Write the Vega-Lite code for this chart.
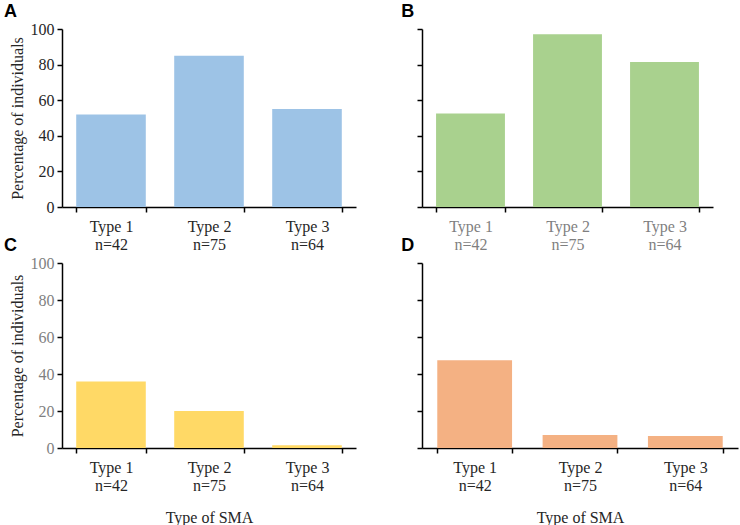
{
  "$schema": "https://vega.github.io/schema/vega-lite/v6.json",
  "padding": {"left": 4, "top": 3, "right": 2, "bottom": 0},
  "background": "white",
  "data": {"values": [
    {"panel": "A", "type": "Type 1|n=42", "pct": 52},
    {"panel": "A", "type": "Type 2|n=75", "pct": 85},
    {"panel": "A", "type": "Type 3|n=64", "pct": 55},
    {"panel": "B", "type": "Type 1|n=42", "pct": 52.5},
    {"panel": "B", "type": "Type 2|n=75", "pct": 97},
    {"panel": "B", "type": "Type 3|n=64", "pct": 81.5},
    {"panel": "C", "type": "Type 1|n=42", "pct": 36},
    {"panel": "C", "type": "Type 2|n=75", "pct": 20},
    {"panel": "C", "type": "Type 3|n=64", "pct": 1.5},
    {"panel": "D", "type": "Type 1|n=42", "pct": 47.5},
    {"panel": "D", "type": "Type 2|n=75", "pct": 7},
    {"panel": "D", "type": "Type 3|n=64", "pct": 6.5}
  ]},
  "config": {
    "view": {"stroke": null},
    "font": "Liberation Serif",
    "style": {
      "guide-label": {"font": "Liberation Serif", "fontSize": 16},
      "guide-title": {"font": "Liberation Serif", "fontSize": 16, "fontWeight": "normal"}
    },
    "axis": {
      "domainColor": "black", "domainWidth": 1.5, "tickColor": "black", "tickWidth": 1.5, "tickSize": 5,
      "grid": false, "labelFont": "Liberation Serif", "labelFontSize": 16, "labelColor": "#262626",
      "titleFont": "Liberation Serif", "titleFontSize": 16, "titleFontWeight": "normal", "titleColor": "#262626"
    },
    "title": {"font": "Liberation Sans", "fontSize": 18, "fontWeight": "bold", "anchor": "start", "frame": "bounds", "color": "black", "offset": 2}
  },
  "columns": 2,
  "spacing": {"row": 56, "column": 66},
  "bounds": "flush",
  "concat": [
    {
      "title": {"text": "A", "dx": -5, "dy": 2},
      "width": 294, "height": 178,
      "transform": [{"filter": "datum.panel == 'A'"}],
      "mark": {"type": "bar", "color": "#9DC3E6"},
      "encoding": {
        "x": {"field": "type", "type": "nominal", "sort": null,
          "scale": {"paddingInner": 0.29, "paddingOuter": 0.145},
          "axis": {"title": null, "labelAngle": 0, "labelExpr": "isValid(datum.value) ? split(datum.value, '|') : ''", "tickBand": "extent", "labelPadding": 6, "labelLineHeight": 18, "labelBaseline": "top", "labelFont": "Liberation Serif", "labelFontSize": 16, "labelColor": "#262626"}},
        "y": {"field": "pct", "type": "quantitative", "scale": {"domain": [0, 100], "nice": false},
          "axis": {"values": [0, 20, 40, 60, 80, 100], "title": "Percentage of individuals", "labelPadding": 3, "titlePadding": 5, "labelFont": "Liberation Serif", "labelFontSize": 16, "titleFont": "Liberation Serif", "titleFontSize": 16, "labelColor": "#262626"}}
      }
    },
    {
      "title": {"text": "B", "dx": -15, "dy": -5},
      "width": 291, "height": 178,
      "transform": [{"filter": "datum.panel == 'B'"}],
      "mark": {"type": "bar", "color": "#A9D18E"},
      "encoding": {
        "x": {"field": "type", "type": "nominal", "sort": null,
          "scale": {"paddingInner": 0.29, "paddingOuter": 0.145},
          "axis": {"title": null, "labelAngle": 0, "labelExpr": "isValid(datum.value) ? split(datum.value, '|') : ''", "tickBand": "extent", "labelPadding": 6, "labelLineHeight": 18, "labelBaseline": "top", "labelFont": "Liberation Serif", "labelFontSize": 16, "labelColor": "#7f7f7f"}},
        "y": {"field": "pct", "type": "quantitative", "scale": {"domain": [0, 100], "nice": false},
          "axis": {"values": [0, 20, 40, 60, 80, 100], "title": null, "labels": false}}
      }
    },
    {
      "title": {"text": "C", "dx": -5, "dy": 2},
      "width": 294, "height": 185,
      "transform": [{"filter": "datum.panel == 'C'"}],
      "mark": {"type": "bar", "color": "#FFD966"},
      "encoding": {
        "x": {"field": "type", "type": "nominal", "sort": null,
          "scale": {"paddingInner": 0.29, "paddingOuter": 0.145},
          "axis": {"title": "Type of SMA", "titlePadding": 16, "labelAngle": 0, "labelExpr": "isValid(datum.value) ? split(datum.value, '|') : ''", "tickBand": "extent", "labelPadding": 6, "labelLineHeight": 18, "labelBaseline": "top", "labelFont": "Liberation Serif", "labelFontSize": 16, "titleFont": "Liberation Serif", "titleFontSize": 16, "labelColor": "#262626"}},
        "y": {"field": "pct", "type": "quantitative", "scale": {"domain": [0, 100], "nice": false},
          "axis": {"values": [0, 20, 40, 60, 80, 100], "title": "Percentage of individuals", "labelPadding": 3, "titlePadding": 5, "labelFont": "Liberation Serif", "labelFontSize": 16, "titleFont": "Liberation Serif", "titleFontSize": 16, "labelColor": "#7f7f7f"}}
      }
    },
    {
      "title": {"text": "D", "dx": -15, "dy": -5},
      "width": 316, "height": 185,
      "transform": [{"filter": "datum.panel == 'D'"}],
      "mark": {"type": "bar", "color": "#F4B183"},
      "encoding": {
        "x": {"field": "type", "type": "nominal", "sort": null,
          "scale": {"paddingInner": 0.29, "paddingOuter": 0.145},
          "axis": {"title": "Type of SMA", "titlePadding": 16, "labelAngle": 0, "labelExpr": "isValid(datum.value) ? split(datum.value, '|') : ''", "tickBand": "extent", "labelPadding": 6, "labelLineHeight": 18, "labelBaseline": "top", "labelFont": "Liberation Serif", "labelFontSize": 16, "titleFont": "Liberation Serif", "titleFontSize": 16, "labelColor": "#262626"}},
        "y": {"field": "pct", "type": "quantitative", "scale": {"domain": [0, 100], "nice": false},
          "axis": {"values": [0, 20, 40, 60, 80, 100], "title": null, "labels": false}}
      }
    }
  ]
}
